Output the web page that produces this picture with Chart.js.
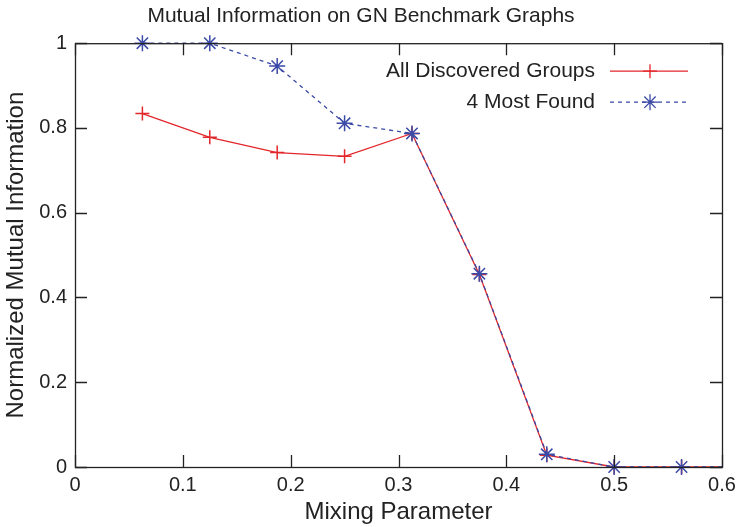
<!DOCTYPE html>
<html>
<head>
<meta charset="utf-8">
<script src="https://cdn.jsdelivr.net/npm/chart.js@4/dist/chart.umd.min.js"></script>
<style>
  html, body { margin: 0; padding: 0; background: #fff; }
  #wrap { width: 737px; height: 527px; }
</style>
</head>
<body>
<div id="wrap"><canvas id="miChart"></canvas></div>
<script>
// mixing parameter values (last one lies just past the axis end)
const mixing = [0.0625, 0.125, 0.1875, 0.25, 0.3125, 0.375, 0.4375, 0.5, 0.5625, 0.625];
const allGroups = [0.834, 0.778, 0.742, 0.733, 0.787, 0.454, 0.028, 0, 0, 0];
const mostFound = [1, 1, 0.946, 0.811, 0.787, 0.456, 0.030, 0, 0, 0];
const xTicks = [0, 0.1, 0.2, 0.3, 0.4, 0.5, 0.6];
const yTicks = [0, 0.2, 0.4, 0.6, 0.8, 1];

const FONT = '"Liberation Sans", Arial, Helvetica, sans-serif';
const RED = '#e3262a';
const BLUE = '#3a4aa6';
const INK = '#222';

const toPoints = ys => mixing.map((x, i) => ({ x: x, y: ys[i] }));
const fmt = v => String(+Number(v).toFixed(1));

// gnuplot style frame: box with inward ticks on all four sides
const framePlugin = {
    id: 'frame',
    afterDraw(chart) {
        const ctx = chart.ctx;
        const a = chart.chartArea;
        const xs = chart.scales.x;
        const ys = chart.scales.y;
        const len = 12;
        ctx.save();
        ctx.strokeStyle = INK;
        ctx.lineWidth = 1.3;
        ctx.beginPath();
        xTicks.forEach(v => {
            const px = Math.round(xs.getPixelForValue(v)) + 0.5;
            ctx.moveTo(px, a.bottom); ctx.lineTo(px, a.bottom - len);
            ctx.moveTo(px, a.top); ctx.lineTo(px, a.top + len);
        });
        yTicks.forEach(v => {
            const py = Math.round(ys.getPixelForValue(v)) + 0.5;
            ctx.moveTo(a.left, py); ctx.lineTo(a.left + len, py);
            ctx.moveTo(a.right, py); ctx.lineTo(a.right - len, py);
        });
        ctx.stroke();
        ctx.strokeRect(a.left + 0.5, a.top + 0.5, a.right - a.left, a.bottom - a.top);
        ctx.restore();
    }
};

// legend inside the plot, top right, text then line sample
const legendPlugin = {
    id: 'insideLegend',
    afterDraw(chart) {
        const ctx = chart.ctx;
        const a = chart.chartArea;
        const items = [
            { label: 'All Discovered Groups', color: RED, dash: [], style: 'cross', r: 7 },
            { label: '4 Most Found', color: BLUE, dash: [4, 4], style: 'star', r: 8 }
        ];
        ctx.save();
        items.forEach((it, i) => {
            const y = a.top + 28 + i * 31;
            ctx.font = '21px ' + FONT;
            ctx.fillStyle = INK;
            ctx.textAlign = 'right';
            ctx.textBaseline = 'middle';
            ctx.fillText(it.label, a.right - 127, y);
            ctx.strokeStyle = it.color;
            ctx.lineWidth = 1.3;
            ctx.setLineDash(it.dash);
            ctx.beginPath();
            ctx.moveTo(a.right - 112, y);
            ctx.lineTo(a.right - 34, y);
            ctx.stroke();
            ctx.setLineDash([]);
            Chart.helpers.drawPoint(ctx, {
                pointStyle: it.style, radius: it.r, borderWidth: 1.5, rotation: 0
            }, a.right - 72, y);
        });
        ctx.restore();
    }
};

new Chart(document.getElementById('miChart'), {
    type: 'line',
    data: {
        datasets: [
            {
                label: 'All Discovered Groups',
                data: toPoints(allGroups),
                borderColor: RED,
                backgroundColor: RED,
                borderWidth: 1.3,
                pointStyle: 'cross',
                pointRadius: 7,
                pointBorderWidth: 1.5,
                order: 2,
                clip: { left: 12, top: 12, right: 0, bottom: 12 }
            },
            {
                label: '4 Most Found',
                data: toPoints(mostFound),
                borderColor: BLUE,
                backgroundColor: BLUE,
                borderWidth: 1.3,
                borderDash: [4, 4],
                pointStyle: 'star',
                pointRadius: 8,
                pointBorderWidth: 1.5,
                order: 1,
                clip: { left: 12, top: 12, right: 0, bottom: 12 }
            }
        ]
    },
    options: {
        responsive: true,
        maintainAspectRatio: false,
        animation: false,
        layout: { padding: { left: 0, right: 15, top: 0, bottom: 0 } },
        plugins: {
            legend: { display: false },
            tooltip: { enabled: false },
            title: {
                display: true,
                text: 'Mutual Information on GN Benchmark Graphs',
                color: INK,
                font: { family: FONT, size: 21, weight: 'normal' },
                padding: { top: 4, bottom: 14 }
            }
        },
        scales: {
            x: {
                type: 'linear',
                min: 0,
                max: 0.6,
                afterFit(s) {
                    s.height = 60;
                    s.paddingLeft = 0;
                    s.paddingRight = 0;
                },
                grid: { display: false, drawTicks: false },
                border: { display: false },
                ticks: {
                    stepSize: 0.1,
                    padding: 6,
                    color: INK,
                    font: { family: FONT, size: 20 },
                    callback: fmt
                },
                title: {
                    display: true,
                    text: 'Mixing Parameter',
                    color: INK,
                    font: { family: FONT, size: 24 },
                    padding: { top: 0, bottom: 0 }
                }
            },
            y: {
                min: 0,
                max: 1,
                afterFit(s) {
                    s.width = 75;
                    s.paddingTop = 0;
                    s.paddingBottom = 0;
                },
                grid: { display: false, drawTicks: false },
                border: { display: false },
                ticks: {
                    stepSize: 0.2,
                    padding: 8,
                    color: INK,
                    font: { family: FONT, size: 20 },
                    callback: fmt
                },
                title: {
                    display: true,
                    text: 'Normalized Mutual Information',
                    color: INK,
                    font: { family: FONT, size: 24 },
                    padding: { top: 2, bottom: 0 }
                }
            }
        }
    },
    plugins: [framePlugin, legendPlugin]
});
</script>
</body>
</html>
